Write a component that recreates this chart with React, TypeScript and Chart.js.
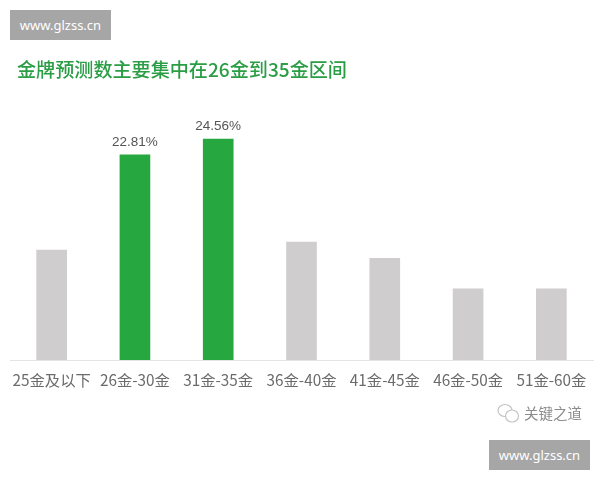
import React, { useEffect, useRef } from "react";
import { Chart, registerables } from "chart.js";

Chart.register(...registerables);

const categories = ["25金及以下", "26金-30金", "31金-35金", "36金-40金", "41金-45金", "46金-50金", "51金-60金"];
const shares = [12.2, 22.81, 24.56, 13.1, 11.3, 7.9, 7.9];
const labelled = [false, true, true, false, false, false, false];
const titleText = "金牌预测数主要集中在26金到35金区间";
const badgeText = "www.glzss.cn";
const brandText = "关键之道";

const CJK = '"Noto Sans CJK SC", "Liberation Sans", sans-serif';
const GREEN = "#27a73f";
const GRAY = "#cfcdcd";

const valueLabels = {
  id: "valueLabels",
  afterDatasetsDraw(chart: any) {
    const { ctx } = chart;
    const meta = chart.getDatasetMeta(0);
    ctx.save();
    ctx.font = '13.5px "Liberation Sans", sans-serif';
    ctx.fillStyle = "#555555";
    ctx.textAlign = "center";
    ctx.textBaseline = "alphabetic";
    meta.data.forEach((bar: any, i: number) => {
      if (labelled[i]) ctx.fillText(shares[i].toFixed(2) + "%", bar.x, bar.y - 9);
    });
    ctx.restore();
  },
};

const badgeStyle: React.CSSProperties = {
  position: "absolute",
  width: 101,
  height: 30,
  background: "#a6a6a6",
  color: "#ffffff",
  font: '13px/30px "Noto Sans", sans-serif',
  textAlign: "center",
};

export default function App() {
  const ref = useRef<HTMLCanvasElement>(null);
  useEffect(() => {
    const chart = new Chart(ref.current!, {
      type: "bar",
      data: {
        labels: categories,
        datasets: [
          {
            data: shares,
            backgroundColor: labelled.map((on) => (on ? GREEN : GRAY)),
            barThickness: 30,
          },
        ],
      },
      options: {
        animation: false,
        responsive: false,
        layout: { padding: { top: 99, left: 10, right: 7, bottom: 0 } },
        plugins: { legend: { display: false }, tooltip: { enabled: false } },
        scales: {
          y: { display: false, min: 0, max: 29 },
          x: {
            afterFit: (scale: any) => {
              scale.height = 120;
            },
            grid: { display: false },
            border: { color: "#e4e4e4", width: 1 },
            ticks: {
              color: "#6b6b6b",
              padding: 3,
              maxRotation: 0,
              autoSkip: false,
              font: { size: 15.3, family: CJK },
            },
          },
        },
      } as any,
      plugins: [valueLabels],
    });
    return () => chart.destroy();
  }, []);

  return (
    <div style={{ position: "fixed", left: 0, top: 0, width: 600, height: 480, background: "#fff", overflow: "hidden" }}>
      <canvas ref={ref} width={600} height={480} style={{ position: "absolute", left: 0, top: 0 }} />
      <div style={{ ...badgeStyle, left: 10, top: 10 }}>{badgeText}</div>
      <div
        style={{
          position: "absolute",
          left: 17,
          top: 55,
          color: "#2a9d45",
          font: `500 19.1px/28px ${CJK}`,
          whiteSpace: "nowrap",
        }}
      >
        {titleText}
      </div>
      <svg width="26" height="24" viewBox="0 0 26 24" style={{ position: "absolute", left: 496, top: 402 }} fill="none" stroke="#c4c4c4" strokeWidth="1.2">
        <ellipse cx="9" cy="8.5" rx="7" ry="6" />
        <ellipse cx="16" cy="14" rx="6.5" ry="6" fill="#fff" />
      </svg>
      <div
        style={{
          position: "absolute",
          left: 524,
          top: 402,
          color: "#8c8c8c",
          font: `14.5px/22px ${CJK}`,
          whiteSpace: "nowrap",
        }}
      >
        {brandText}
      </div>
      <div style={{ ...badgeStyle, left: 489, top: 440 }}>{badgeText}</div>
    </div>
  );
}
